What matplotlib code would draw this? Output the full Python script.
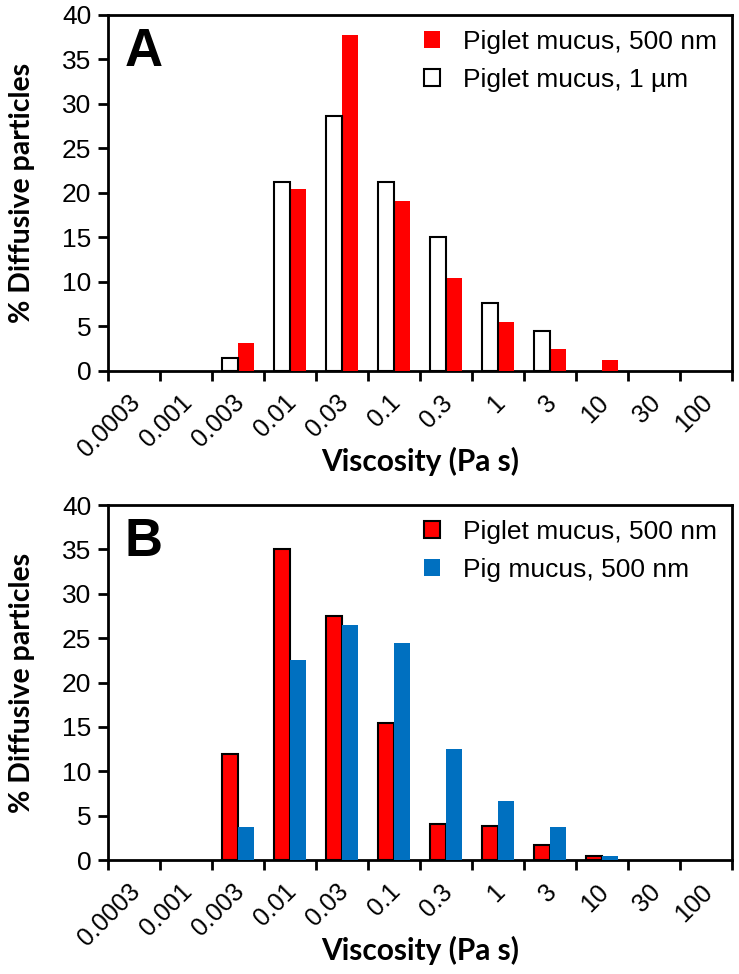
import numpy as np
import matplotlib
import matplotlib.pyplot as plt
from matplotlib.transforms import ScaledTranslation

matplotlib.use('Agg')

# 데이터
viscosity = ['0.0003', '0.001', '0.003', '0.01', '0.03', '0.1', '0.3', '1', '3', '10', '30', '100']
piglet_1um = [0, 0, 1.5, 21.2, 28.7, 21.2, 15.1, 7.6, 4.5, 0, 0, 0]
piglet_500_a = [0, 0, 3.1, 20.4, 37.7, 19.1, 10.4, 5.5, 2.5, 1.2, 0, 0]
piglet_500_b = [0, 0, 12.0, 35.0, 27.5, 15.4, 4.1, 3.8, 1.7, 0.4, 0, 0]
pig_500 = [0, 0, 3.7, 22.5, 26.5, 24.5, 12.5, 6.6, 3.7, 0.4, 0, 0]

plt.rcParams['font.family'] = ['Liberation Sans', 'DejaVu Sans']
RED = '#FF0000'
BLUE = '#0070C0'
LABEL_FONT = 'Lato'


def draw_bars(ax, xpos, values, **kw):
    # 값이 0인 막대는 그리지 않음 (테두리 선이 보이지 않도록)
    xpos = np.asarray(xpos, dtype=float)
    values = np.asarray(values, dtype=float)
    keep = values > 0
    return ax.bar(xpos[keep], values[keep], 0.3, zorder=3, **kw)


def style_axes(ax, letter, fig):
    n = len(viscosity)
    x = np.arange(n)
    ax.set_xlim(-0.5, n - 0.5)
    ax.set_ylim(0, 40)
    ax.set_yticks(np.arange(0, 41, 5))
    ax.tick_params(axis='y', labelsize=19, width=2, length=7, direction='out', pad=5)
    # 카테고리 경계에 눈금, 라벨은 중앙에
    ax.set_xticks(np.arange(n + 1) - 0.5)
    ax.set_xticklabels([])
    ax.tick_params(axis='x', which='major', width=2, length=7, direction='out')
    ax.set_xticks(x, minor=True)
    ax.set_xticklabels(viscosity, minor=True, rotation=45, ha='right', va='top',
                       rotation_mode='anchor', fontsize=18)
    ax.tick_params(axis='x', which='minor', length=0, pad=14)
    shift = ScaledTranslation(-4 / 72, 0, fig.dpi_scale_trans)
    for lbl in ax.get_xticklabels(minor=True):
        lbl.set_transform(lbl.get_transform() + shift)
    for s in ax.spines.values():
        s.set_linewidth(2)
    ax.set_ylabel('% Diffusive particles', fontsize=20.5, fontweight='bold',
                  family=LABEL_FONT)
    ax.yaxis.set_label_coords(-0.117, 0.5)
    ax.set_xlabel('Viscosity (Pa s)', fontsize=21.5, fontweight='bold',
                  family=LABEL_FONT)
    ax.xaxis.set_label_coords(0.5, -0.213)
    ax.text(0.026, 0.966, letter, transform=ax.transAxes, fontsize=38,
            fontweight='bold', va='top', ha='left')
    ax.legend(loc='upper right', frameon=False, fontsize=19,
              handlelength=0.6, handleheight=0.6, handletextpad=0.9,
              labelspacing=0.55, borderaxespad=0.2, borderpad=0.35)


fig = plt.figure(figsize=(7.39, 9.74), dpi=100)
ax1 = fig.add_axes([0.1461, 0.6191, 0.8444, 0.3655])
ax2 = fig.add_axes([0.1461, 0.117, 0.8444, 0.3645])

x = np.arange(len(viscosity))
w = 0.3

# A
draw_bars(ax1, x + w / 2, piglet_500_a, color=RED, edgecolor='none',
          label='Piglet mucus, 500 nm')
draw_bars(ax1, x - w / 2, piglet_1um, color='white', edgecolor='black',
          linewidth=1.5, label='Piglet mucus, 1 µm')
style_axes(ax1, 'A', fig)

# B
draw_bars(ax2, x - w / 2, piglet_500_b, color=RED, edgecolor='black',
          linewidth=1.5, label='Piglet mucus, 500 nm')
draw_bars(ax2, x + w / 2, pig_500, color=BLUE, edgecolor='none',
          label='Pig mucus, 500 nm')
style_axes(ax2, 'B', fig)

plt.savefig('out.png', dpi=100)
plt.close()
